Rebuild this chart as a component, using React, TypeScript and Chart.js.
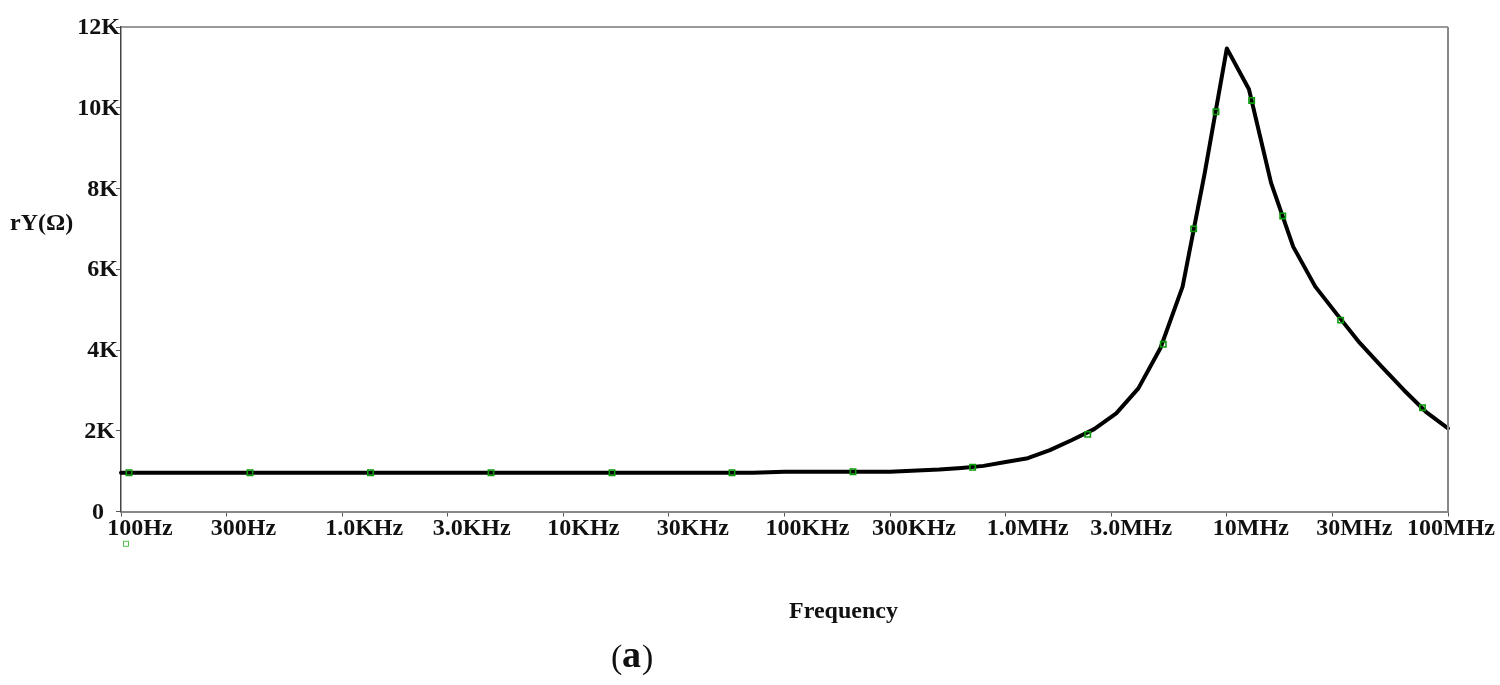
import { useEffect, useRef } from "react"
import { Chart, registerables } from "chart.js"

Chart.register(...registerables)

// rY curve
const curveFreq = [
  100, 72000, 100000, 300000, 398000, 501000, 631000, 794000, 1000000, 1259000, 1585000, 1995000,
  2512000, 3162000, 3981000, 5012000, 6310000, 7943000, 10000000, 12590000, 15850000, 19950000,
  25120000, 31620000, 39810000, 50120000, 63100000, 79430000, 100000000,
]
const curveRy = [
  960, 960, 986, 986, 1015, 1040, 1080, 1130, 1225, 1320, 1520, 1770, 2040, 2430, 3050, 4050, 5570,
  8380, 11470, 10460, 8140, 6560, 5570, 4870, 4180, 3590, 3010, 2470, 2060,
]

// green trace symbols sitting on the curve
const markerFreq = [
  108.7, 383, 1343, 4710, 16600, 57900, 204000, 709000, 2350000, 5160000, 7080000, 8930000, 12950000,
  17900000, 32700000, 76700000,
]
const markerRy = [960, 960, 960, 960, 960, 960, 986, 1095, 1910, 4140, 7000, 9900, 10180, 7320, 4740, 2570]

// the lone legend symbol under the axis
const legendFreq = [105.3]
const legendRy = [-800]

const xTickValues = [100, 300, 1000, 3000, 10000, 30000, 100000, 300000, 1000000, 3000000, 10000000, 30000000, 100000000]
const xTickLabels = ["100Hz", "300Hz", "1.0KHz", "3.0KHz", "10KHz", "30KHz", "100KHz", "300KHz", "1.0MHz", "3.0MHz", "10MHz", "30MHz", "100MHz"]
const xLabelShift = [19, 17, 22, 24, 20, 24, 23, 24, 22, 20, 24, 22, 3]

const yTickLabels = ["0", "2K", "4K", "6K", "8K", "10K", "12K"]
const yLabelRight = [104, 115, 118, 118, 118, 120, 120]

const FONT = '"Liberation Serif"'

const framePlugin = {
  id: "frame",
  afterDraw(chart: any) {
    const { ctx, chartArea, scales } = chart
    ctx.save()
    // top and right edges of the plot box
    ctx.strokeStyle = "#777"
    ctx.lineWidth = 1.5
    ctx.beginPath()
    ctx.moveTo(chartArea.left, chartArea.top)
    ctx.lineTo(chartArea.right, chartArea.top)
    ctx.stroke()
    ctx.strokeStyle = "#888"
    ctx.lineWidth = 2
    ctx.beginPath()
    ctx.moveTo(chartArea.right, chartArea.top)
    ctx.lineTo(chartArea.right, chartArea.bottom)
    ctx.stroke()

    // point elements outside the chart area get skipped, so this one goes here
    ctx.strokeStyle = "#4fbf4f"
    ctx.lineWidth = 1
    legendFreq.forEach((f, i) => {
      const px = scales.x.getPixelForValue(f)
      const py = scales.y.getPixelForValue(legendRy[i])
      ctx.strokeRect(px - 2.5, py - 2.5, 5, 5)
    })

    // tick labels sit off-centre and differ per tick, labelOffset can't do that
    ctx.fillStyle = "#111"
    ctx.font = `bold 24px ${FONT}`
    ctx.textBaseline = "middle"
    ctx.textAlign = "right"
    scales.y.ticks.forEach((_: any, i: number) => {
      ctx.fillText(yTickLabels[i], yLabelRight[i], scales.y.getPixelForTick(i) + 1)
    })

    ctx.textBaseline = "alphabetic"
    ctx.textAlign = "center"
    scales.x.ticks.forEach((_: any, i: number) => {
      ctx.fillText(xTickLabels[i], scales.x.getPixelForTick(i) + xLabelShift[i], 535)
    })

    ctx.textAlign = "left"
    ctx.fillText("rY(Ω)", 10, 230)
    ctx.fillText("Frequency", 789, 618)

    // panel letter
    ctx.font = `34px ${FONT}`
    ctx.fillText("(", 611, 668)
    ctx.fillText(")", 642, 668)
    ctx.font = `bold 38px ${FONT}`
    ctx.fillText("a", 622, 667)
    ctx.restore()
  },
}

export default function App() {
  const chartRef = useRef<HTMLCanvasElement>(null)

  useEffect(() => {
    if (!chartRef.current) return

    const chart = new Chart(chartRef.current, {
      type: "line",
      data: {
        datasets: [
          {
            data: markerFreq.map((f, i) => ({ x: f, y: markerRy[i] })),
            showLine: false,
            pointStyle: "rect",
            pointRadius: 3.8,
            pointBorderWidth: 1.6,
            pointBorderColor: "#0a9a0a",
            pointBackgroundColor: "transparent",
          },
          {
            data: curveFreq.map((f, i) => ({ x: f, y: curveRy[i] })),
            borderColor: "#000",
            borderWidth: 4,
            borderCapStyle: "round",
            borderJoinStyle: "round",
            pointRadius: 0,
            tension: 0,
            clip: false,
          },
        ],
      } as any,
      plugins: [framePlugin],
      options: {
        animation: false,
        responsive: false,
        devicePixelRatio: 1,
        layout: { padding: { left: 121, top: 27, right: 52, bottom: 0 } },
        plugins: { legend: { display: false }, tooltip: { enabled: false } },
        scales: {
          x: {
            type: "logarithmic",
            min: 100,
            max: 100000000,
            afterBuildTicks: (scale: any) => {
              scale.ticks = xTickValues.map((v) => ({ value: v }))
            },
            afterFit: (scale: any) => {
              scale.height = 173.5
            },
            border: { color: "#888", width: 2 },
            grid: { drawOnChartArea: false, tickLength: 5, tickColor: "#555", tickWidth: 1 },
            ticks: { display: false },
          },
          y: {
            min: 0,
            max: 12000,
            afterFit: (scale: any) => {
              scale.width = 0
            },
            border: { color: "#444", width: 1.5 },
            grid: { drawOnChartArea: false, tickLength: 5, tickColor: "#555", tickWidth: 1 },
            ticks: { display: false, stepSize: 2000 },
          },
        },
      } as any,
    })

    return () => chart.destroy()
  }, [])

  return (
    <canvas
      ref={chartRef}
      width={1500}
      height={685}
      style={{ position: "fixed", left: 0, top: 0, display: "block" }}
    ></canvas>
  )
}
